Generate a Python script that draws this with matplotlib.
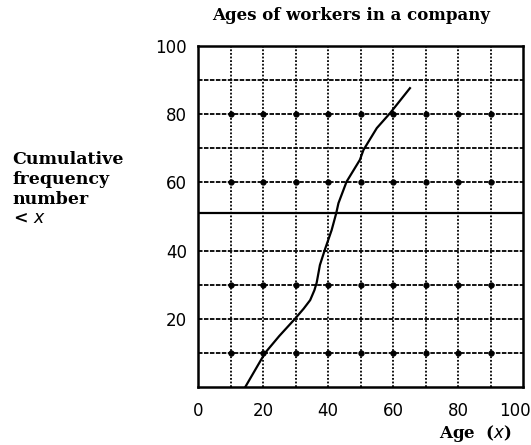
import matplotlib
matplotlib.use("Agg")
import matplotlib.pyplot as plt
import matplotlib.transforms as mtransforms

# cumulative frequency curve
ages = [14.5, 20.6, 25.0, 29.8, 32.5, 34.5, 35.8, 36.5, 37.5, 39.1, 41.1, 42.5,
        43.2, 45.7, 49.8, 50.9, 55.0, 59.1, 65.2]
cum_freq = [0, 10, 15, 20, 23.0, 25.5, 28.4, 30.6, 35.8, 40.5, 46.0, 50.9,
            53.9, 60.2, 66.6, 69.5, 75.9, 80.3, 87.6]

x_ticks = [0, 20, 40, 60, 80, 100]
y_ticks = [20, 40, 60, 80, 100]
grid_steps = [10, 20, 30, 40, 60, 70, 80, 90]
dotted_rows = [10, 30, 60, 80]
median_line = 51

fig = plt.figure(figsize=(5.31, 4.45), dpi=100)
ax = fig.add_axes([0.373, 0.130, 0.612, 0.767])

for gx in [10, 20, 30, 40, 50, 60, 70, 80, 90]:
    ax.axvline(gx, color="black", lw=1.3, ls=(0, (1, 1)), zorder=1)
for gy in grid_steps:
    ax.axhline(gy, color="black", lw=1.3, ls=(0, (2.5, 0.8)), zorder=1)
for gy in dotted_rows:
    ax.plot([10, 20, 30, 40, 50, 60, 70, 80, 90], [gy] * 9, "o",
            color="black", ms=3.5, zorder=2)
ax.axhline(median_line, color="black", lw=1.6, zorder=2)

ax.plot(ages, cum_freq, color="black", lw=1.6, zorder=3)

ax.set_xlim(0, 100)
ax.set_ylim(0, 100)
ax.set_xticks(x_ticks)
ax.set_yticks(y_ticks)
ax.tick_params(length=0, labelsize=12)
ax.tick_params(axis="x", pad=11)
ax.tick_params(axis="y", pad=8)
for s in ax.spines.values():
    s.set_linewidth(1.8)

# the last x label sits a little left of the frame edge in the original
last = ax.get_xticklabels()[-1]
last.set_transform(last.get_transform() +
                   mtransforms.ScaledTranslation(-8 / 100, 0, fig.dpi_scale_trans))

fig.text(0.661, 0.965, "Ages of workers in a company", ha="center", va="center",
         family="DejaVu Serif", weight="bold", fontsize=12)
fig.text(0.024, 0.66, "Cumulative\nfrequency\nnumber\n< $x$", ha="left", va="top",
         family="DejaVu Serif", weight="bold", fontsize=12.5, linespacing=1.2)
fig.text(0.963, 0.026, "Age  ($x$)", ha="right", va="center",
         family="DejaVu Serif", weight="bold", fontsize=12)

fig.savefig("out.png", dpi=100)
